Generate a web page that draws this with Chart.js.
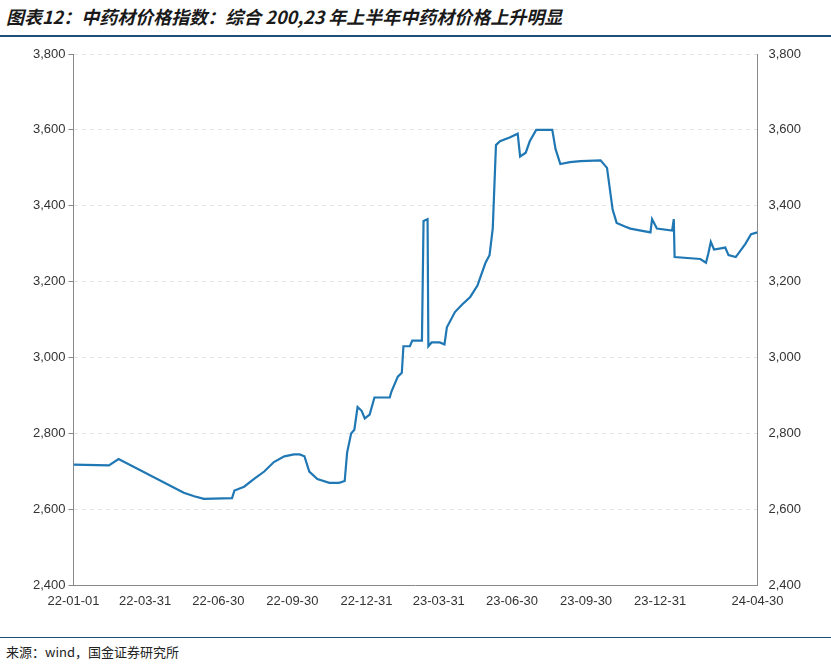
<!DOCTYPE html>
<html><head><meta charset="utf-8">
<script src="https://cdn.jsdelivr.net/npm/chart.js@4"></script>
<style>
body{margin:0;background:#fff;font-family:"Noto Sans CJK SC","DejaVu Sans",sans-serif;}
#title{position:absolute;left:6px;top:3px;font-size:18px;font-weight:bold;font-style:italic;color:#1a1a1a;}
#rule1{position:absolute;left:0;top:35px;width:831px;height:2px;background:#1f4e79;}
#rule2{position:absolute;left:0;top:637px;width:831px;height:1px;background:#1f4e79;}
#src{position:absolute;left:6px;top:642px;font-size:13px;color:#222;}
#wrap{position:absolute;left:0;top:40px;width:831px;height:590px;}
</style></head><body>
<div id="title">图表12：中药材价格指数：综合 200,23 年上半年中药材价格上升明显</div>
<div id="rule1"></div>
<div id="wrap"><canvas id="c"></canvas></div>
<div id="rule2"></div>
<div id="src">来源：wind，国金证券研究所</div>
<script>
// days since 2022-01-01
const days = [0,44,56,137,150,162,197,200,212,224,237,249,262,274,281,287,293,303,318,330,337,340,345,349,353,358,362,368,374,393,395,403,408,410,418,421,433,435,440,441,445,455,461,464,474,483,493,502,507,512,517,521,525,530,542,552,555,562,567,575,595,599,605,617,630,655,663,670,675,686,692,717,719,725,744,746,747,779,786,789,792,796,810,814,823,835,842,850];
const values = [2718,2716,2733,2644,2635,2628,2630,2650,2660,2680,2700,2725,2740,2745,2745,2740,2700,2680,2670,2670,2675,2750,2800,2810,2870,2860,2840,2850,2895,2895,2910,2950,2960,3030,3030,3045,3045,3360,3365,3030,3040,3040,3035,3080,3120,3140,3160,3190,3220,3250,3270,3340,3560,3570,3580,3590,3530,3540,3570,3600,3600,3550,3510,3515,3518,3520,3500,3390,3355,3345,3340,3330,3365,3340,3335,3365,3265,3260,3250,3275,3305,3285,3290,3270,3265,3300,3325,3330];
const tickDays = [0,89,180,272,364,454,545,637,729,820,850];
const tickLabels = ["22-01-01","22-03-31","22-06-30","22-09-30","22-12-31","23-03-31","23-06-30","23-09-30","23-12-31","","24-04-30"];
const yMin = 2400, yMax = 3800;

const pts = days.map((d,i)=>({x:d,y:values[i]}));
const yAxis = (pos, grid) => ({
  position: pos, min: yMin, max: yMax,
  ticks: {stepSize: 200, color: "#333", font: {size: 13, family: "Liberation Sans"},
    callback: v => v.toLocaleString("en-US")},
  grid: grid ? {color: "#e3e3e3", tickColor: "#888", drawTicks: true, tickLength: 5} : {display: false, drawTicks: true},
  border: {color: "#888", dash: grid ? [4,4] : []}
});
new Chart(document.getElementById("c"), {
  type: "line",
  data: {datasets: [{data: pts, borderColor: "#1f77b4", borderWidth: 2.2, pointRadius: 0, tension: 0}]},
  options: {
    responsive: true, maintainAspectRatio: false, animation: false,
    layout: {padding: {left: 30, right: 27, top: 14, bottom: 18}},
    plugins: {legend: {display: false}, tooltip: {enabled: false}},
    scales: {
      x: {type: "linear", min: 0, max: 850,
        afterBuildTicks: ax => { ax.ticks = tickDays.map(v => ({value: v})); },
        ticks: {autoSkip: false, maxRotation: 0, color: "#333", font: {size: 13, family: "Liberation Sans"},
          callback: (v, i) => tickLabels[i]},
        grid: {display: false, drawTicks: true, tickLength: 5, tickColor: "#888"},
        border: {color: "#888"}},
      y: yAxis("left", true),
      y2: yAxis("right", false)
    }
  }
});
</script>
</body></html>
